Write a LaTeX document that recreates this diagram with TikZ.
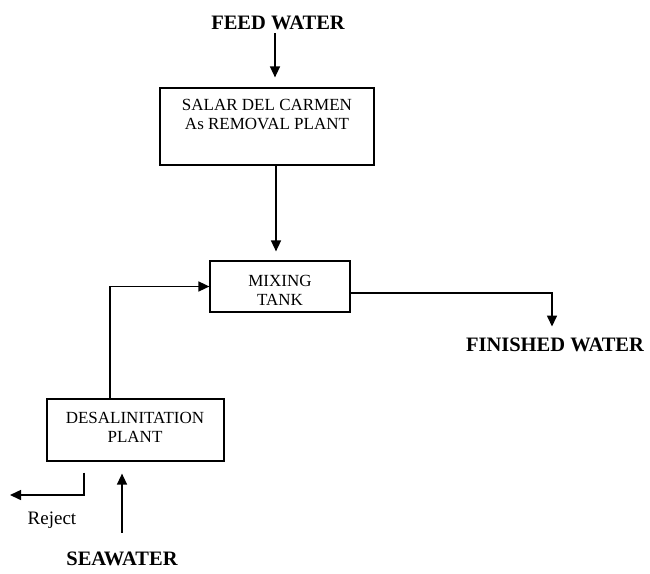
\documentclass[tikz,border=0pt]{standalone}
\usepackage{fontspec}
\setmainfont{Liberation Serif}
\usetikzlibrary{arrows.meta,positioning,calc}

\begin{document}
\begin{tikzpicture}[x=1pt,y=-1pt,>={Triangle[length=11pt,width=10pt]}]
  \tikzstyle{plant}=[draw,line width=1.2pt,inner sep=0pt]
  \tikzstyle{plantlbl}=[align=center,inner sep=0pt,font=\fontsize{17}{19}\selectfont]
  \tikzstyle{stream}=[font=\fontsize{20.5}{24}\selectfont\bfseries]
  \tikzstyle{flow}=[->,line width=1.5pt]
  \useasboundingbox (0,0) rectangle (650,573);
  \node[stream] (feed) at (278,23) {FEED WATER};
  \node[plant,minimum width=214pt,minimum height=77pt] (salar) at (267,126.5) {};
  \node[plantlbl] (salartxt) at (267,114) {SALAR DEL CARMEN\\As REMOVAL PLANT};
  \node[plant,minimum width=140pt,minimum height=51pt] (mixing) at (280,286.5) {};
  \node[plantlbl] (mixingtxt) at (280,290) {MIXING\\TANK};
  \node[plant,minimum width=177pt,minimum height=62pt] (desal) at (135.5,430) {};
  \node[plantlbl] (desaltxt) at (135,427) {DESALINITATION\\PLANT};
  \node[stream] (finished) at (555,345) {FINISHED WATER};
  \node[font=\fontsize{19}{22}\selectfont] (reject) at (52,520) {Reject};
  \node[stream] (sea) at (122,559) {SEAWATER};
  \coordinate (rejectend) at (10,495);
  \draw[flow] ([xshift=-3pt]feed.south) -- ([xshift=8pt,yshift=10pt]salar.north);
  \draw[flow] ([xshift=9pt]salar.south) -- ([xshift=-4pt,yshift=9pt]mixing.north);
  \draw[flow] ([xshift=-25.5pt]desal.north) |- (mixing.west);
  \draw[flow] ([yshift=-6.5pt]mixing.east) -| ([xshift=-3pt,yshift=8pt]finished.north);
  \draw[flow,shorten <=11pt] ([xshift=-51.5pt]desal.south) |- (rejectend);
  \draw[flow,shorten <=16pt,shorten >=12pt] (sea.north) -- (sea.north |- desal.south);
\end{tikzpicture}
\end{document}
